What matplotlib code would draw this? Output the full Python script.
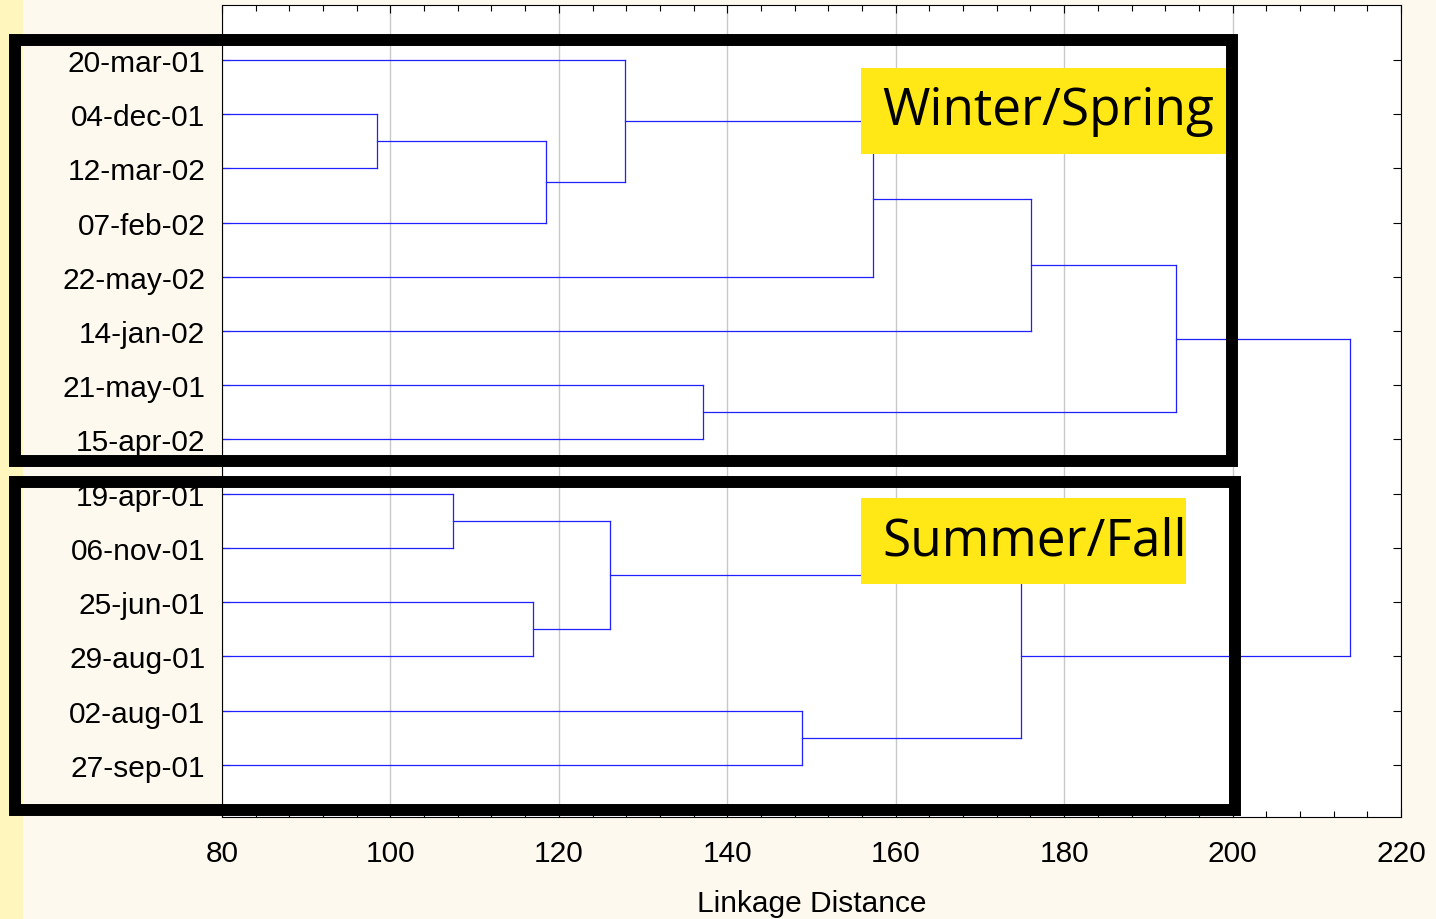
import matplotlib
matplotlib.use('Agg')
import matplotlib.pyplot as plt
from matplotlib.patches import Rectangle
from matplotlib.ticker import MultipleLocator

# Листья дендрограммы (сверху вниз)
leaves = ['20-mar-01', '04-dec-01', '12-mar-02', '07-feb-02', '22-may-02', '14-jan-02',
          '21-may-01', '15-apr-02', '19-apr-01', '06-nov-01', '25-jun-01', '29-aug-01',
          '02-aug-01', '27-sep-01']

# Объединения: (левый кластер, правый кластер, расстояние); новые кластеры нумеруются с 14
merge_left = [1, 14, 0, 16, 17, 6, 18, 8, 10, 21, 12, 23, 20]
merge_right = [2, 3, 15, 4, 5, 7, 19, 9, 11, 22, 13, 24, 25]
merge_dist = [98.4, 118.5, 127.9, 157.3, 176.1, 137.1, 193.3,
              107.4, 116.9, 126.1, 148.9, 174.9, 214.0]

x_min, x_max = 80, 220

fig = plt.figure(figsize=(14.36, 9.2), dpi=100, facecolor='#FEF9EE')
fig.patches.append(Rectangle((0, 0), 23 / 1436, 1, transform=fig.transFigure,
                             facecolor='#FFF6BE', edgecolor='none', zorder=-1))
ax = fig.add_axes([222 / 1436, 1 - 818 / 920, 1179 / 1436, 812 / 920])
ax.set_facecolor('white')

# Позиции и высоты узлов
pos = {i: i + 1 for i in range(len(leaves))}
height = {i: x_min for i in range(len(leaves))}
for k, (a, b, d) in enumerate(zip(merge_left, merge_right, merge_dist)):
    node = len(leaves) + k
    for c in (a, b):
        ax.plot([height[c], d], [pos[c], pos[c]], color='#2020FF', lw=0.9)
    ax.plot([d, d], [pos[a], pos[b]], color='#2020FF', lw=0.9)
    pos[node] = (pos[a] + pos[b]) / 2
    height[node] = d

ax.set_xlim(x_min, x_max)
ax.set_ylim(14.96, -0.01)
ax.xaxis.set_major_locator(MultipleLocator(20))
ax.xaxis.set_minor_locator(MultipleLocator(4))
ax.set_yticks(range(1, len(leaves) + 1))
ax.set_yticklabels(leaves)
ax.tick_params(axis='both', which='both', direction='in', top=True, right=True,
               labelsize=21.5, width=0.8)
ax.tick_params(axis='both', which='major', length=6)
ax.tick_params(axis='x', which='minor', length=4)
ax.tick_params(axis='x', pad=16)
ax.tick_params(axis='y', pad=12)
for lab in ax.get_xticklabels() + ax.get_yticklabels():
    lab.set_fontfamily('Liberation Sans')
ax.grid(axis='x', which='major', color='#c8c8c8', lw=1)
ax.set_axisbelow(True)
for s in ax.spines.values():
    s.set_linewidth(0.8)
ax.set_xlabel('Linkage Distance', fontsize=21.5, family='Liberation Sans', labelpad=16)

# Жёлтые подписи групп
ax.add_patch(Rectangle((155.9, 1.145), 199.7 - 155.9, 2.73 - 1.145,
                       facecolor='#FFE816', edgecolor='none', zorder=3))
ax.text(158.4, 1.94, 'Winter/Spring', fontsize=37, family='Open Sans',
        va='center', ha='left', zorder=4)
ax.add_patch(Rectangle((155.9, 9.08), 194.5 - 155.9, 10.67 - 9.08,
                       facecolor='#FFE816', edgecolor='none', zorder=3))
ax.text(158.4, 9.88, 'Summer/Fall', fontsize=37, family='Open Sans',
        va='center', ha='left', zorder=4)

# Чёрные рамки поверх графика
fig.patches.append(Rectangle((15 / 1436, 1 - 462 / 920), 1217 / 1436, 421.5 / 920,
                             transform=fig.transFigure, fill=False,
                             edgecolor='black', lw=8.6, zorder=5))
fig.patches.append(Rectangle((15 / 1436, 1 - 811 / 920), 1220 / 1436, 328 / 920,
                             transform=fig.transFigure, fill=False,
                             edgecolor='black', lw=8.6, zorder=5))

fig.savefig('out.png', dpi=100, facecolor=fig.get_facecolor())
